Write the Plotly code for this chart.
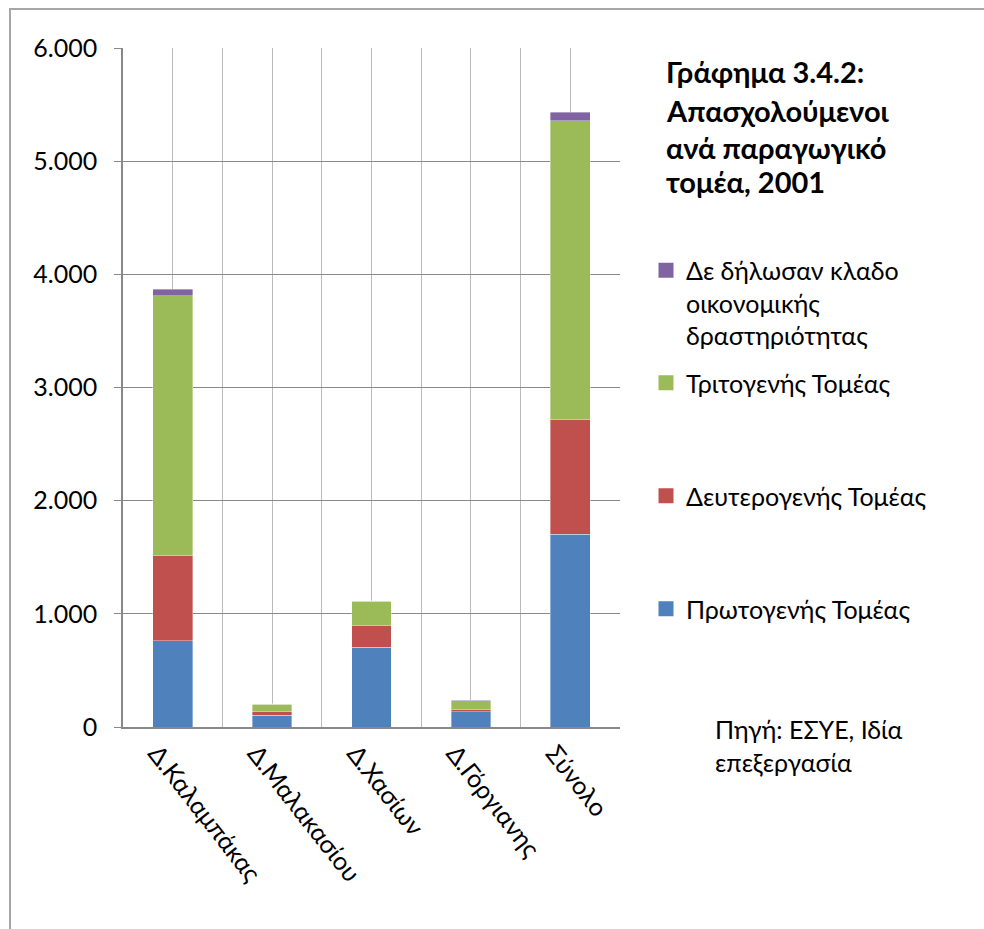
import plotly.graph_objects as go

categories = ["Δ.Καλαμπάκας", "Δ.Μαλακασίου", "Δ.Χασίων", "Δ.Γόργιανης", "Σύνολο"]
primary = [760, 106, 703, 133, 1705]
secondary = [753, 35, 192, 24, 1016]
tertiary = [2297, 62, 215, 75, 2638]
undeclared = [59, 2, 5, 6, 72]

series_names = [
    "Πρωτογενής Τομέας",
    "Δευτερογενής Τομέας",
    "Τριτογενής Τομέας",
    "Δε δήλωσαν κλαδο<br>οικονομικής<br>δραστηριότητας",
]
series_values = [primary, secondary, tertiary, undeclared]
series_colors = ["#4F81BD", "#C0504D", "#9BBB59", "#8064A2"]
legend_ids = ["legend", "legend2", "legend3", "legend4"]

y_ticks = [0, 1000, 2000, 3000, 4000, 5000, 6000]

FONT = "Lato"
FS = 25
FS_TITLE = 29

# plot area in pixels
W, H = 984, 929
L, R, T, B = 123, 620, 48, 727
pw, ph = R - L, B - T

def px_x(x):
    return (x - L) / pw

def px_y(y):
    return (B - y) / ph

x_idx = list(range(len(categories)))

fig = go.Figure()
for name, vals, col, lg in zip(series_names, series_values, series_colors, legend_ids):
    fig.add_trace(go.Bar(
        x=x_idx, y=vals, name=name, marker_color=col,
        marker_line=dict(width=0.6, color="rgba(255,255,255,0.6)"),
        showlegend=False,
    ))
    # legend entry with a larger square swatch
    fig.add_trace(go.Scatter(
        x=[None], y=[None], mode="markers", name=name,
        marker=dict(symbol="square", size=15, color=col),
        legend=lg, showlegend=True, hoverinfo="skip",
    ))

legend_common = dict(
    font=dict(family=FONT, size=FS, color="#000"),
    bgcolor="rgba(0,0,0,0)", borderwidth=0,
    xanchor="left", x=px_x(646), itemclick=False, itemsizing="trace",
)
legend_pos = {"legend": 609, "legend2": 496, "legend3": 383, "legend4": 303}
layout_legends = {}
for lg, yc in legend_pos.items():
    d = dict(legend_common)
    d.update(yanchor="middle", y=px_y(yc))
    if lg == "legend4":
        d.update(valign="top")
    layout_legends[lg] = d

fig.update_layout(
    width=W, height=H,
    margin=dict(l=L, r=W - R, t=T, b=H - B),
    barmode="stack",
    bargap=0.6,
    separators=",.",
    plot_bgcolor="white", paper_bgcolor="white",
    font=dict(family=FONT, size=FS, color="#000"),
    showlegend=True,
    **layout_legends,
)

fig.update_xaxes(
    range=[-0.5, len(categories) - 0.5],
    tickvals=x_idx, ticktext=categories,
    tickangle=52,
    ticklabelshift=-16,
    ticklabelstandoff=0,
    showgrid=True, gridcolor="#BBBBBB", gridwidth=1.3,
    minor=dict(tick0=0.5, dtick=1, showgrid=True, gridcolor="#BBBBBB", gridwidth=1.3),
    showline=True, linecolor="#888888", linewidth=1.5,
    ticks="", zeroline=False,
    tickfont=dict(family=FONT, size=FS, color="#000"),
)
fig.update_yaxes(
    range=[0, 6000], tickvals=y_ticks, tickformat=",d",
    showgrid=True, gridcolor="#888888", gridwidth=1.3,
    showline=True, linecolor="#888888", linewidth=1.5,
    ticks="outside", ticklen=7, tickcolor="#888888", tickwidth=1.3,
    zeroline=False,
    ticklabelstandoff=12,
    tickfont=dict(family=FONT, size=FS, color="#000"),
)

title_lines = ["Γράφημα 3.4.2:", "Απασχολούμενοι", "ανά παραγωγικό", "τομέα, 2001"]
title_centers = [71, 110, 147, 182]
for txt, yc in zip(title_lines, title_centers):
    fig.add_annotation(
        text="<b>" + txt + "</b>", xref="paper", yref="paper",
        x=px_x(664), y=px_y(yc), xanchor="left", yanchor="middle",
        showarrow=False, align="left",
        font=dict(family=FONT, size=FS_TITLE, color="#000"),
    )

fig.add_annotation(
    text="Πηγή: ΕΣΥΕ, Ιδία<br>επεξεργασία", xref="paper", yref="paper",
    x=px_x(713), y=px_y(746), xanchor="left", yanchor="middle",
    showarrow=False, align="left",
    font=dict(family=FONT, size=FS, color="#000"),
)

# outer chart border
fig.add_shape(
    type="rect", xref="paper", yref="paper",
    x0=px_x(10), x1=px_x(1100), y0=px_y(1100), y1=px_y(9),
    line=dict(color="#A6A6A6", width=2), fillcolor="rgba(0,0,0,0)", layer="below",
)

fig.write_html("out.html")
